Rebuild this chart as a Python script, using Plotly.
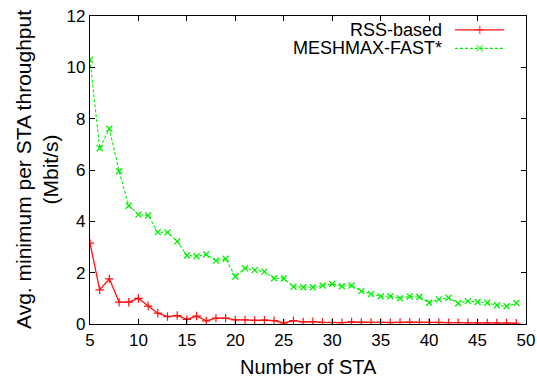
import plotly.graph_objects as go

n_sta = list(range(5, 50))
rss_based = [3.15, 1.33, 1.76, 0.85, 0.85, 1.0, 0.70, 0.42, 0.29, 0.33, 0.18, 0.31, 0.12, 0.23, 0.23,
             0.16, 0.16, 0.14, 0.15, 0.13, 0.04, 0.13, 0.08, 0.09, 0.06, 0.06, 0.05, 0.08, 0.06, 0.06,
             0.06, 0.05, 0.06, 0.07, 0.06, 0.06, 0.06, 0.05, 0.05, 0.05, 0.04, 0.04, 0.04, 0.04, 0.03]
meshmax = [10.3, 6.85, 7.61, 5.95, 4.61, 4.26, 4.23, 3.58, 3.57, 3.22, 2.67, 2.64, 2.71, 2.47, 2.54,
           1.85, 2.17, 2.10, 2.04, 1.78, 1.77, 1.45, 1.43, 1.43, 1.50, 1.56, 1.47, 1.50, 1.28, 1.17,
           1.08, 1.08, 1.00, 1.07, 1.05, 0.83, 0.96, 1.02, 0.81, 0.89, 0.86, 0.83, 0.73, 0.69, 0.82]
names = ["RSS-based", "MESHMAX-FAST*"]
colors = ["#ff1010", "#00f000"]

FONT = "Liberation Sans, Arial, Helvetica, sans-serif"

fig = go.Figure()
fig.add_trace(go.Scatter(x=n_sta, y=rss_based, mode="lines+markers", name=names[0],
                         line=dict(color=colors[0], width=1.3),
                         marker=dict(symbol="cross-thin-open", size=6, line=dict(color=colors[0], width=1.2)),
                         showlegend=False))
fig.add_trace(go.Scatter(x=n_sta, y=meshmax, mode="lines+markers", name=names[1],
                         line=dict(color=colors[1], width=1.1, dash="3px,2px"),
                         marker=dict(symbol="x-thin-open", size=6, line=dict(color=colors[1], width=1.3)),
                         showlegend=False))

# custom legend (text on the left, sample on the right) on a hidden overlay axis
leg_y = [0.955, 0.895]
for i in range(2):
    fig.add_trace(go.Scatter(x=[0.837, 0.894, 0.950], y=[leg_y[i]] * 3, xaxis="x2", yaxis="y2",
                             mode="lines+markers", showlegend=False, hoverinfo="skip",
                             line=dict(color=colors[i], width=1.3 if i == 0 else 1.1,
                                       dash="solid" if i == 0 else "3px,2px"),
                             marker=dict(symbol="cross-thin-open" if i == 0 else "x-thin-open",
                                         size=[0, 6, 0],
                                         line=dict(color=colors[i], width=1.3))))
    fig.add_annotation(x=0.812, y=leg_y[i], xref="x2", yref="y2", text=names[i], showarrow=False,
                       xanchor="right", yanchor="middle", font=dict(family=FONT, size=18, color="black"))

# axis titles
fig.add_annotation(x=0.5, y=0, xref="paper", yref="paper", yshift=-43, text="Number of STA",
                   showarrow=False, xanchor="center", yanchor="middle",
                   font=dict(family=FONT, size=20, color="black"))
fig.add_annotation(x=0, y=0.5, xref="paper", yref="paper", xshift=-53,
                   text="Avg. minimum per STA throughput<br>(Mbit/s)", textangle=-90,
                   showarrow=False, xanchor="center", yanchor="middle",
                   font=dict(family=FONT, size=21, color="black"))

axis_common = dict(showgrid=False, zeroline=False, showline=True, linecolor="black", linewidth=1.2,
                   mirror="ticks", ticks="inside", ticklen=5, tickwidth=1, tickcolor="black",
                   automargin=False, tickfont=dict(family=FONT, size=17, color="black"))

fig.update_layout(
    width=537, height=380,
    margin=dict(l=90, r=11, t=16, b=56),
    paper_bgcolor="white", plot_bgcolor="white",
    font=dict(family=FONT, color="black"),
    xaxis=dict(range=[5, 50], tickmode="array", tickvals=list(range(5, 51, 5)), **axis_common),
    yaxis=dict(range=[0, 12], tickmode="array", tickvals=list(range(0, 13, 2)), **axis_common),
    xaxis2=dict(range=[0, 1], overlaying="x", visible=False, fixedrange=True),
    yaxis2=dict(range=[0, 1], overlaying="y", visible=False, fixedrange=True),
)

fig.write_html("out.html")
